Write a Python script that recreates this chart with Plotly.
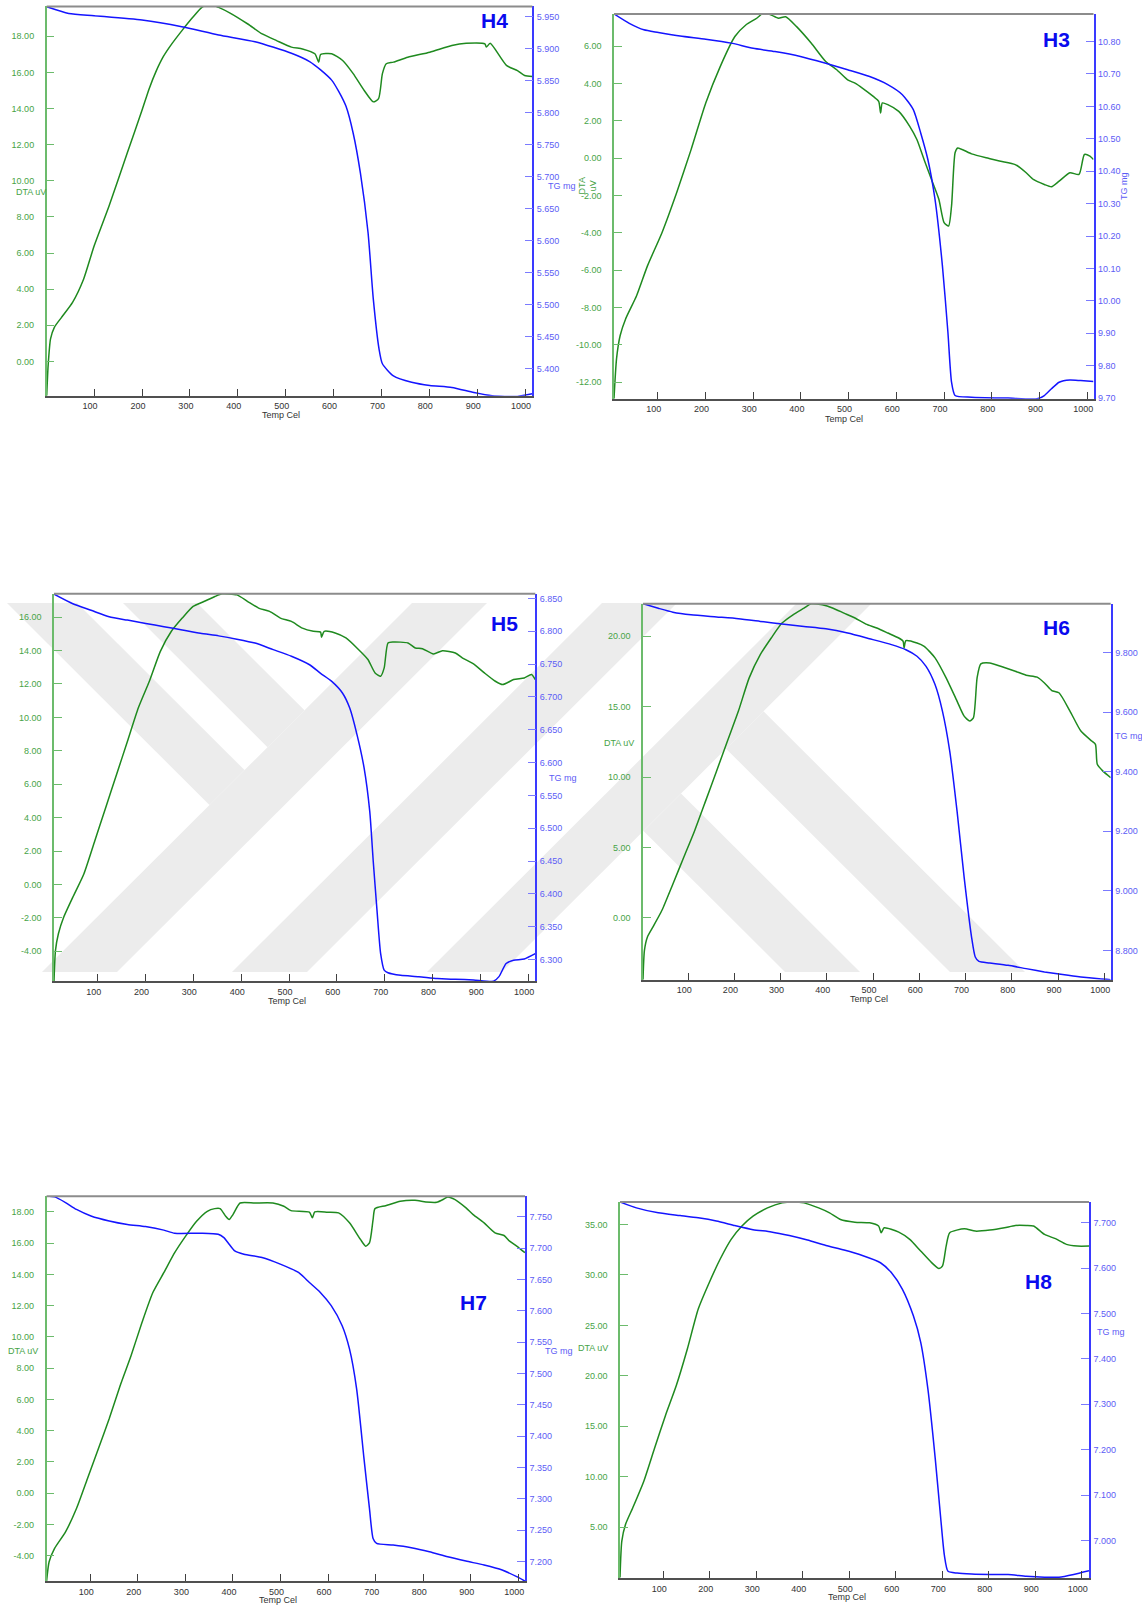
import plotly.graph_objects as go

W, H = 1142, 1611

# ---------------- sample H4 ----------------
h4_t_dta = [1, 4, 9, 17, 32, 55, 78, 100, 131, 169, 200, 215, 230, 245, 260, 283, 306, 325, 340, 360,
            383, 421, 451, 481, 512, 535, 561, 569, 573, 596, 619, 641, 664, 683, 694, 702, 710, 725,
            755, 801, 847, 877, 916, 919, 927, 961, 984, 999, 1015]
h4_dta = [-1.9, -0.22, 1.25, 1.89, 2.44, 3.27, 4.55, 6.39, 8.59, 11.52, 13.9, 15.1, 16.1, 16.9, 17.5,
          18.3, 19.05, 19.6, 19.8, 19.6, 19.3, 18.68, 18.13, 17.76, 17.4, 17.3, 17.03, 16.57, 16.99,
          17.03, 16.66, 15.93, 15.0, 14.37, 14.55, 15.93, 16.48, 16.57, 16.84, 17.12, 17.49, 17.61,
          17.58, 17.4, 17.61, 16.39, 16.1, 15.83, 15.78]
h4_t_tg = [1, 47, 100, 200, 283, 360, 436, 512, 550, 573, 596, 611, 626, 641, 656, 672, 683, 695, 702,
           725, 763, 801, 847, 893, 931, 984, 1015]
h4_tg = [5.9656, 5.9552, 5.9516, 5.9448, 5.9344, 5.9215, 5.911, 5.893, 5.880, 5.867, 5.851, 5.833,
         5.810, 5.768, 5.706, 5.613, 5.509, 5.431, 5.408, 5.389, 5.379, 5.374, 5.371, 5.363, 5.358,
         5.357, 5.361]
h4_dta_ticks = [0, 2, 4, 6, 8, 10, 12, 14, 16, 18]
h4_tg_ticks = [5.40, 5.45, 5.50, 5.55, 5.60, 5.65, 5.70, 5.75, 5.80, 5.85, 5.90, 5.95]

# ---------------- sample H3 ----------------
h3_t_dta = [8.5, 13.8, 21.4, 33, 55.8, 78.6, 109, 139.7, 170, 200.7, 231, 261.7, 284.6, 307.5, 322.7,
            338, 353, 368, 391, 421.9, 452, 475, 498, 513.4, 528.7, 551.6, 563, 567, 570.6, 582, 605,
            628, 643, 658, 673.6, 689, 700, 709.5, 715.6, 723, 728.5, 757.5, 788, 818.5, 849, 872, 887,
            910, 925, 941, 963.5, 982.6, 994, 1005.5, 1013]
h3_dta = [-12.89, -10.75, -9.5, -8.6, -7.37, -5.77, -3.99, -1.85, 0.46, 2.96, 4.91, 6.52, 7.14, 7.5,
          7.8, 7.67, 7.5, 7.58, 7.05, 6.16, 5.18, 4.74, 4.2, 4.02, 3.76, 3.31, 3.05, 2.42, 2.96, 2.87,
          2.51, 1.71, 1.0, -0.07, -1.14, -2.2, -3.45, -3.63, -2.56, 0.29, 0.55, 0.23, 0.02, -0.16,
          -0.34, -0.78, -1.14, -1.41, -1.53, -1.23, -0.78, -0.87, 0.2, 0.11, -0.07]
h3_t_tg = [8.5, 40.5, 71, 101.5, 147, 200.7, 254, 300, 345.6, 399, 452, 498, 544, 582, 612.6, 635.5,
           651, 666, 681, 696.5, 708, 715.6, 723, 757.5, 834, 895, 910, 925, 941, 963.5, 986, 1013]
h3_tg = [10.885, 10.856, 10.836, 10.828, 10.817, 10.807, 10.795, 10.779, 10.769, 10.754, 10.733,
         10.713, 10.692, 10.667, 10.636, 10.590, 10.518, 10.436, 10.313, 10.108, 9.903, 9.749, 9.708,
         9.703, 9.700, 9.698, 9.708, 9.729, 9.749, 9.756, 9.754, 9.751]
h3_dta_ticks = [-12, -10, -8, -6, -4, -2, 0, 2, 4, 6]
h3_tg_ticks = [9.70, 9.80, 9.90, 10.00, 10.10, 10.20, 10.30, 10.40, 10.50, 10.60, 10.70, 10.80]

# ---------------- sample H5 ----------------
h5_t_dta = [8.6, 11.7, 17.8, 29, 48, 71, 94, 116.8, 139.6, 162.4, 185, 208, 231, 254, 276.7, 299.5,
            322, 345, 360, 391, 413.7, 436.5, 459.4, 482, 505, 528, 550.8, 566, 568, 573.6, 596.5, 619,
            642, 665, 680, 691.6, 699, 707, 718, 748.8, 764, 779, 802, 821, 847.8, 863, 885.8, 908.6,
            931.5, 946.7, 969.6, 992, 1007, 1015]
h5_dta = [-5.79, -3.94, -2.95, -1.95, -0.76, 0.63, 2.62, 4.61, 6.6, 8.58, 10.57, 12.16, 13.95, 15.15,
          15.94, 16.64, 16.93, 17.23, 17.39, 17.33, 16.93, 16.54, 16.34, 15.94, 15.74, 15.34, 15.15,
          15.1, 14.79, 15.15, 15.05, 14.75, 14.15, 13.46, 12.66, 12.46, 12.96, 14.45, 14.51, 14.45,
          14.15, 14.11, 13.79, 13.99, 13.85, 13.55, 13.2, 12.66, 12.16, 11.96, 12.26, 12.36, 12.56,
          12.26]
h5_t_tg = [8.6, 48, 86, 124, 162, 200.5, 238.6, 276.7, 314.7, 352.8, 390.9, 429, 467, 505, 543, 566,
           588.8, 611.7, 627, 642, 657, 668.8, 676, 684, 691.6, 699, 707, 733.5, 771.6, 809.7, 847.8,
           885.8, 927.7, 939, 954, 969.6, 992, 1015]
h5_tg = [6.8566, 6.842, 6.832, 6.822, 6.817, 6.812, 6.807, 6.802, 6.797, 6.793, 6.788, 6.782, 6.772,
         6.762, 6.749, 6.736, 6.724, 6.706, 6.683, 6.643, 6.592, 6.526, 6.451, 6.375, 6.309, 6.284,
         6.280, 6.276, 6.274, 6.271, 6.270, 6.269, 6.267, 6.274, 6.294, 6.299, 6.301, 6.309]
h5_dta_ticks = [-4, -2, 0, 2, 4, 6, 8, 10, 12, 14, 16]
h5_tg_ticks = [6.30, 6.35, 6.40, 6.45, 6.50, 6.55, 6.60, 6.65, 6.70, 6.75, 6.80, 6.85]

# ---------------- sample H6 ----------------
h6_t_dta = [2.3, 5.4, 11.7, 23.6, 43, 67, 90.5, 114, 137.8, 161.5, 185, 208.7, 232, 256, 279.7, 303,
            326.8, 350.6, 366, 390, 413.6, 437, 460.9, 484.6, 508, 531.8, 555.5, 565, 567, 571, 595,
            610.6, 634, 658, 681.6, 697, 709, 717, 725, 733, 752.5, 776, 807.6, 831, 855, 870.7, 886.5,
            902, 925.9, 949.5, 973, 981, 985, 996.7, 1014]
h6_dta = [-4.39, -2.31, -1.37, -0.66, 0.52, 2.41, 4.3, 6.19, 8.31, 10.44, 12.56, 14.69, 17.05, 18.7,
          19.88, 20.94, 21.53, 22.0, 22.31, 22.24, 22.0, 21.65, 21.3, 20.87, 20.59, 20.24, 19.88,
          19.65, 19.17, 19.69, 19.53, 19.29, 18.47, 17.05, 15.4, 14.33, 13.98, 14.21, 17.05, 18.04,
          18.11, 17.87, 17.52, 17.24, 17.1, 16.69, 16.15, 15.99, 14.69, 13.27, 12.56, 12.33, 10.91,
          10.44, 9.96]
h6_t_tg = [2.3, 35.4, 66.9, 106, 161.5, 208.7, 256, 303, 350.6, 397.9, 445, 492, 539.7, 571, 595,
           614.6, 634, 650, 665.8, 681.6, 697, 713, 721, 729, 752.5, 791.9, 831, 870.7, 910, 949.5,
           989, 1014]
h6_tg = [9.963, 9.948, 9.935, 9.926, 9.919, 9.913, 9.904, 9.895, 9.887, 9.879, 9.865, 9.846, 9.826,
         9.809, 9.787, 9.753, 9.692, 9.603, 9.469, 9.268, 9.045, 8.845, 8.778, 8.763, 8.758, 8.750,
         8.739, 8.728, 8.719, 8.711, 8.705, 8.702]
h6_dta_ticks = [0, 5, 10, 15, 20]
h6_tg_ticks = [8.8, 9.0, 9.2, 9.4, 9.6, 9.8]

# ---------------- sample H7 ----------------
h7_t_dta = [8.2, 13.5, 25, 48, 71, 94, 117, 139.8, 162.8, 185.7, 208.7, 231.6, 254.6, 277.5, 300.5,
            323.5, 346, 361.7, 373, 384.7, 392, 400, 415, 446, 484, 507, 522, 560.7, 567, 572, 599,
            622, 645, 668, 679, 687, 694.6, 698.6, 721, 752, 782.6, 805.6, 828.5, 843.9, 851.5, 867,
            890, 905, 928, 951, 970, 981.6, 996.6, 1013.8]
h7_dta = [-5.62, -4.38, -3.53, -2.47, -0.98, 0.93, 2.85, 4.76, 6.88, 8.8, 10.92, 12.84, 14.11, 15.39,
          16.45, 17.4, 18.04, 18.21, 18.21, 17.72, 17.51, 17.83, 18.57, 18.57, 18.57, 18.36, 18.08,
          17.98, 17.62, 18.0, 17.98, 17.94, 17.3, 16.24, 15.81, 16.02, 17.51, 18.21, 18.4, 18.68,
          18.74, 18.64, 18.62, 18.83, 18.96, 18.79, 18.26, 17.83, 17.3, 16.66, 16.49, 16.13, 15.81,
          15.39]
h7_t_tg = [8.2, 25, 48, 71, 101.5, 139.8, 178, 216, 254.6, 277.5, 331, 369, 380.9, 392, 403.8, 423,
           461, 499.5, 537.7, 560.7, 583.7, 606.6, 629.6, 645, 660, 675.5, 687, 694.6, 702, 736.7, 775,
           813, 851.5, 889.8, 928, 966, 996.6, 1013.8]
h7_tg = [7.7834, 7.782, 7.773, 7.762, 7.7516, 7.7436, 7.738, 7.7346, 7.729, 7.724, 7.724, 7.7224,
         7.717, 7.7065, 7.6959, 7.6906, 7.6853, 7.6747, 7.6614, 7.6455, 7.6296, 7.6084, 7.5765,
         7.5394, 7.4757, 7.3643, 7.2847, 7.237, 7.229, 7.2264, 7.2222, 7.2158, 7.2078, 7.2009,
         7.1946, 7.1866, 7.176, 7.169]
h7_dta_ticks = [-4, -2, 0, 2, 4, 6, 8, 10, 12, 14, 16, 18]
h7_tg_ticks = [7.20, 7.25, 7.30, 7.35, 7.40, 7.45, 7.50, 7.55, 7.60, 7.65, 7.70, 7.75]

# ---------------- sample H8 ----------------
h8_t_dta = [6.7, 10.6, 18.5, 34, 57.7, 81, 104.7, 128, 151.7, 175, 198.8, 222, 245.8, 269, 292.9,
            324, 355.6, 379, 402.6, 434, 457.5, 481, 512, 543.7, 563, 568.5, 575, 606.4, 630, 653.5,
            677, 692.7, 700.5, 708.3, 716, 747.5, 771, 802.4, 833.7, 857, 881, 896.5, 920, 943.5, 967,
            990.5, 1015.6]
h8_dta = [0.0, 3.62, 5.26, 6.9, 9.53, 12.82, 16.1, 19.06, 22.68, 26.62, 29.25, 31.55, 33.52, 34.84,
          35.82, 36.64, 37.14, 37.23, 37.14, 36.64, 36.15, 35.49, 35.23, 35.16, 34.84, 34.18, 34.67,
          34.24, 33.52, 32.37, 31.22, 30.63, 30.89, 32.86, 34.18, 34.57, 34.34, 34.44, 34.67, 34.9,
          34.9, 34.84, 34.01, 33.59, 33.03, 32.86, 32.86]
h8_t_tg = [6.7, 42, 89, 136, 175, 214, 253.7, 292.9, 332, 371, 410, 449.6, 488.8, 528, 567, 590.7,
           614, 637.8, 653.5, 669, 684.8, 696.6, 704.4, 712.3, 731.9, 763, 802, 841.6, 880.8, 920, 951,
           982.7, 1015.6]
h8_tg = [7.746, 7.733, 7.722, 7.716, 7.711, 7.704, 7.694, 7.685, 7.680, 7.672, 7.662, 7.650, 7.640,
         7.628, 7.612, 7.590, 7.554, 7.495, 7.437, 7.334, 7.181, 7.049, 6.968, 6.932, 6.928, 6.926,
         6.925, 6.925, 6.921, 6.919, 6.919, 6.925, 6.933]
h8_dta_ticks = [5, 10, 15, 20, 25, 30, 35]
h8_tg_ticks = [7.0, 7.1, 7.2, 7.3, 7.4, 7.5, 7.6, 7.7]

temp_ticks = [100, 200, 300, 400, 500, 600, 700, 800, 900, 1000]

# ---------------- panel layout (pixel boxes: left, top, right, bottom) ----------------
panels = [
    dict(name="H4", t_dta=h4_t_dta, dta=h4_dta, t_tg=h4_t_tg, tg=h4_tg,
         dticks=h4_dta_ticks, gticks=h4_tg_ticks, gdec=3,
         box=(46.7, 6.5, 532.3, 397), trange=(1, 1015), drange=(-1.9, 19.65), grange=(5.358, 5.966),
         title=(494.5, 21), temp=(281, 416.5), dta_lab=(31, 193, 0), tg_lab=(546, 187, 0)),
    dict(name="H3", t_dta=h3_t_dta, dta=h3_dta, t_tg=h3_t_tg, tg=h3_tg,
         dticks=h3_dta_ticks, gticks=h3_tg_ticks, gdec=2,
         box=(614, 14, 1093.5, 400), trange=(8.5, 1013), drange=(-12.89, 7.73), grange=(9.698, 10.885),
         title=(1056.4, 39.3), temp=(844, 420.7), dta_lab=(588, 187, -90), tg_lab=(1124.5, 187, -90)),
    dict(name="H5", t_dta=h5_t_dta, dta=h5_dta, t_tg=h5_t_tg, tg=h5_tg,
         dticks=h5_dta_ticks, gticks=h5_tg_ticks, gdec=3,
         box=(54, 595.7, 535.3, 984.3), trange=(8.6, 1015), drange=(-5.79, 17.39), grange=(6.267, 6.857),
         title=(504.4, 625.7), temp=(286.6, 1004), dta_lab=None, tg_lab=(547, 780, 0)),
    dict(name="H6", t_dta=h6_t_dta, dta=h6_dta, t_tg=h6_t_tg, tg=h6_tg,
         dticks=h6_dta_ticks, gticks=h6_tg_ticks, gdec=3,
         box=(643, 605.7, 1110.7, 982.7), trange=(2.3, 1014), drange=(-4.39, 22.31), grange=(8.702, 9.963),
         title=(1056.4, 629.3), temp=(868.5, 1001.7), dta_lab=(618.7, 745, 0), tg_lab=(1113, 738, 0)),
    dict(name="H7", t_dta=h7_t_dta, dta=h7_dta, t_tg=h7_t_tg, tg=h7_tg,
         dticks=h7_dta_ticks, gticks=h7_tg_ticks, gdec=3,
         box=(46.6, 1200, 525, 1586), trange=(8.2, 1014), drange=(-5.62, 19.0), grange=(7.169, 7.783),
         title=(473.4, 1306.7), temp=(277.5, 1605), dta_lab=(23.3, 1355.7, 0), tg_lab=(542.6, 1355.7, 0)),
    dict(name="H8", t_dta=h8_t_dta, dta=h8_dta, t_tg=h8_t_tg, tg=h8_tg,
         dticks=h8_dta_ticks, gticks=h8_tg_ticks, gdec=3,
         box=(620, 1205.7, 1089, 1583), trange=(6.7, 1015.6), drange=(-0.05, 37.23), grange=(6.917, 7.746),
         title=(1038.2, 1285), temp=(846.7, 1601.7), dta_lab=(593.4, 1351.7, 0), tg_lab=(1095.4, 1335.7, 0)),
]

FONT = "Liberation Sans, Arial, sans-serif"
DTA_LINE = "#1f8a1f"
TG_LINE = "#1414ff"
DTA_AXIS = "#6cbb6c"
DTA_TEXT = "#47a347"
TG_AXIS = "#3a3aff"
TG_TICK = "#7a7aff"
TG_TEXT = "#5c5cf5"


def fx(x):
    return x / W


def fy(y):
    return 1 - y / H


fig = go.Figure()
layout = dict(width=W, height=H, margin=dict(l=0, r=0, t=0, b=0),
              paper_bgcolor="white", plot_bgcolor="rgba(0,0,0,0)",
              showlegend=False, font=dict(family=FONT))
shapes, annotations = [], []

for k, p in enumerate(panels):
    xn, dn, gn = k + 1, 2 * k + 1, 2 * k + 2
    xref = "x" if xn == 1 else f"x{xn}"
    dref = "y" if dn == 1 else f"y{dn}"
    gref = f"y{gn}"
    xkey = "xaxis" if xn == 1 else f"xaxis{xn}"
    dkey = "yaxis" if dn == 1 else f"yaxis{dn}"
    gkey = f"yaxis{gn}"
    left, top, right, bottom = p["box"]

    layout[xkey] = dict(domain=[fx(left), fx(right)], range=list(p["trange"]), anchor=dref,
                        showline=True, linecolor="#505050", linewidth=1.5, ticks="inside", ticklen=7,
                        tickcolor="#404040", tickwidth=1, tickvals=temp_ticks,
                        ticktext=[str(v) for v in temp_ticks], tickfont=dict(size=9, color="#333333"),
                        showgrid=False, zeroline=False, ticklabelshift=-4, ticklabelstandoff=1,
                        fixedrange=True)
    layout[dkey] = dict(domain=[fy(bottom), fy(top)], range=list(p["drange"]), anchor=xref, side="left",
                        showline=True, linecolor=DTA_AXIS, linewidth=1.5, ticks="inside", ticklen=8,
                        tickcolor=DTA_AXIS, tickvals=p["dticks"],
                        ticktext=[f"{v:.2f}" for v in p["dticks"]],
                        tickfont=dict(size=9, color=DTA_TEXT), showgrid=False, zeroline=False,
                        ticklabelstandoff=9, fixedrange=True)
    layout[gkey] = dict(range=list(p["grange"]), anchor=xref, overlaying=dref, side="right",
                        showline=True, linecolor=TG_AXIS, linewidth=1.5, ticks="inside", ticklen=8,
                        tickcolor=TG_TICK, tickvals=p["gticks"],
                        ticktext=[f"{v:.{p['gdec']}f}" for v in p["gticks"]],
                        tickfont=dict(size=9, color=TG_TEXT), showgrid=False, zeroline=False,
                        ticklabelstandoff=1, fixedrange=True)

    fig.add_trace(go.Scatter(x=p["t_dta"], y=p["dta"], xaxis=xref, yaxis=dref, mode="lines",
                             line=dict(color=DTA_LINE, width=1.5, shape="spline", smoothing=0.6),
                             hoverinfo="skip"))
    fig.add_trace(go.Scatter(x=p["t_tg"], y=p["tg"], xaxis=xref, yaxis=gref, mode="lines",
                             line=dict(color=TG_LINE, width=1.5, shape="spline", smoothing=0.6),
                             hoverinfo="skip"))

    # top frame line of the plot box
    shapes.append(dict(type="line", xref=f"{xref} domain", yref=f"{dref} domain",
                       x0=0, x1=1, y0=1, y1=1, line=dict(color="#8c8c8c", width=2)))

    annotations.append(dict(text=f"<b>{p['name']}</b>", x=fx(p["title"][0]), y=fy(p["title"][1]),
                            xref="paper", yref="paper", xanchor="center", yanchor="middle",
                            showarrow=False, font=dict(size=21, color="#0a0aee", family=FONT)))
    annotations.append(dict(text="Temp Cel", x=fx(p["temp"][0]), y=fy(p["temp"][1]),
                            xref="paper", yref="paper", xanchor="center", yanchor="middle",
                            showarrow=False, font=dict(size=9, color="#333333", family=FONT)))
    if p["dta_lab"]:
        lx, ly, ang = p["dta_lab"]
        annotations.append(dict(text="DTA<br>uV" if ang else "DTA uV", x=fx(lx), y=fy(ly),
                                xref="paper", yref="paper", xanchor="center", yanchor="middle",
                                textangle=ang, showarrow=False,
                                font=dict(size=9, color=DTA_TEXT, family=FONT)))
    if p["tg_lab"]:
        lx, ly, ang = p["tg_lab"]
        annotations.append(dict(text="TG mg", x=fx(lx), y=fy(ly), xref="paper", yref="paper",
                                xanchor="center" if ang else "left", yanchor="middle",
                                textangle=ang, showarrow=False,
                                font=dict(size=9, color=TG_TEXT, family=FONT)))

# faint diagonal watermark bands behind the middle row
watermark = [
    [(42, 975), (117, 975), (487, 605), (412, 605)],
    [(232, 975), (307, 975), (677, 605), (602, 605)],
    [(427, 975), (502, 975), (872, 605), (797, 605)],
    [(7, 605), (77, 605), (244.5, 772.5), (209.5, 807.5)],
    [(123, 605), (197, 605), (304.5, 712.5), (267.5, 749.5)],
    [(681, 796), (860, 975), (785, 975), (643.5, 833.5)],
    [(763.5, 713.5), (1025, 975), (950, 975), (726, 751)],
]
for poly in watermark:
    path = "M " + " L ".join(f"{fx(x):.5f},{fy(y):.5f}" for x, y in poly) + " Z"
    shapes.append(dict(type="path", xref="paper", yref="paper", path=path,
                       fillcolor="#ececec", line=dict(width=0), layer="below"))

layout["shapes"] = shapes
layout["annotations"] = annotations
fig.update_layout(**layout)
fig.write_html("out.html")
